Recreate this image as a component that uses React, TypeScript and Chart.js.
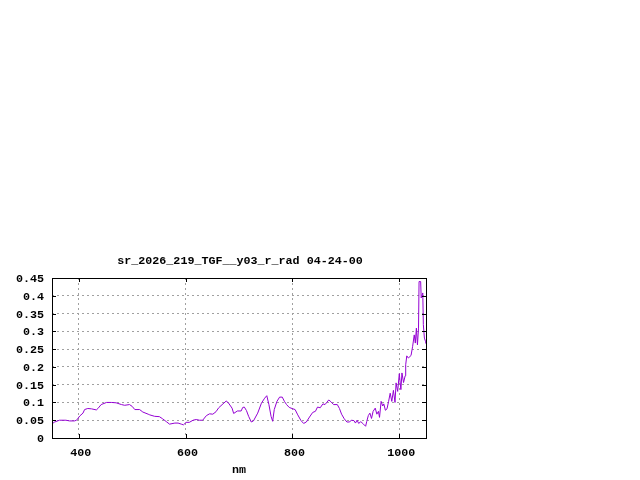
import React, { useEffect, useRef } from 'react';
import { Chart, registerables } from 'chart.js';

Chart.register(...registerables);

// Spectrum
const wavelengthNm = [
  350, 355, 364, 376, 383, 392, 396, 402, 408, 411, 417, 424, 433, 436, 442, 452, 461, 470, 480, 486,
  495, 500, 505, 514, 520, 530, 533, 542, 551, 557, 564, 570, 580, 586, 592, 596, 601, 607, 614, 620,
  626, 632, 639, 645, 651, 657, 662, 670, 676, 680, 687, 690, 697, 704, 707, 710, 714, 718, 723, 727,
  735, 742, 748, 752, 756, 760, 763, 766, 771, 776, 781, 785, 789, 794, 801, 805, 810, 816, 821, 826,
  832, 838, 843, 847, 852, 857, 861, 868, 872, 877, 884, 888, 892, 897, 902, 907, 910, 915, 918, 921,
  924, 928, 933, 937, 939, 942, 945, 948, 951, 955, 958, 961, 963, 966, 969, 971, 974, 977, 980, 983,
  986, 989, 992, 994, 997, 1000, 1003, 1005, 1008, 1011, 1012, 1014, 1017, 1022, 1025, 1028, 1030, 1032, 1034, 1036,
  1037, 1040, 1041, 1044, 1045, 1047, 1049, 1050,
];

const radiance = [
  0.04, 0.045, 0.05, 0.05, 0.048, 0.048, 0.05, 0.062, 0.07, 0.08, 0.083, 0.082, 0.079, 0.083, 0.094, 0.1, 0.1, 0.099, 0.094, 0.092,
  0.094, 0.089, 0.08, 0.08, 0.073, 0.067, 0.065, 0.061, 0.06, 0.054, 0.046, 0.039, 0.042, 0.042, 0.039, 0.037, 0.044, 0.044, 0.05, 0.052,
  0.05, 0.05, 0.063, 0.068, 0.067, 0.074, 0.085, 0.096, 0.104, 0.099, 0.084, 0.069, 0.076, 0.076, 0.086, 0.087, 0.077, 0.061, 0.045, 0.048,
  0.07, 0.098, 0.112, 0.119, 0.094, 0.061, 0.047, 0.08, 0.103, 0.115, 0.115, 0.103, 0.094, 0.086, 0.082, 0.08, 0.065, 0.049, 0.041, 0.045,
  0.059, 0.072, 0.075, 0.087, 0.085, 0.096, 0.094, 0.107, 0.102, 0.094, 0.094, 0.083, 0.067, 0.054, 0.045, 0.045, 0.05, 0.049, 0.042, 0.05,
  0.041, 0.046, 0.039, 0.033, 0.046, 0.063, 0.07, 0.055, 0.075, 0.084, 0.067, 0.075, 0.058, 0.103, 0.09, 0.096, 0.078, 0.082, 0.103, 0.126,
  0.103, 0.134, 0.1, 0.155, 0.131, 0.181, 0.136, 0.183, 0.156, 0.175, 0.206, 0.231, 0.225, 0.232, 0.258, 0.29, 0.267, 0.309, 0.262, 0.309,
  0.44, 0.44, 0.394, 0.408, 0.319, 0.281, 0.272, 0.265,
];

const xTicks = [400, 600, 800, 1000];
const yTicks = [0, 0.05, 0.1, 0.15, 0.2, 0.25, 0.3, 0.35, 0.4, 0.45];

const plotTitle = 'sr_2026_219_TGF__y03_r_rad 04-24-00';
const xTitle = 'nm';

const FONT = { family: '"Liberation Mono", "DejaVu Sans Mono", monospace', size: 11.7, weight: 'bold' as const };

// gnuplot style frame: full box, inward tick marks on all four sides, title above
const framePlugin = {
  id: 'frame',
  afterDraw(chart: Chart) {
    const { ctx, chartArea } = chart;
    const { left, right, top, bottom } = chartArea;
    const xs = chart.scales.x;
    const ys = chart.scales.y;
    const tl = 4;
    ctx.save();
    ctx.strokeStyle = '#000';
    ctx.lineWidth = 1;
    ctx.beginPath();
    xs.ticks.forEach((t) => {
      const px = Math.round(xs.getPixelForValue(t.value)) + 0.5;
      ctx.moveTo(px, bottom);
      ctx.lineTo(px, bottom - tl);
      ctx.moveTo(px, top);
      ctx.lineTo(px, top + tl);
    });
    ys.ticks.forEach((t) => {
      const py = Math.round(ys.getPixelForValue(t.value)) + 0.5;
      ctx.moveTo(left, py);
      ctx.lineTo(left + tl, py);
      ctx.moveTo(right, py);
      ctx.lineTo(right - tl, py);
    });
    ctx.stroke();
    ctx.strokeRect(Math.round(left) + 0.5, Math.round(top) + 0.5, Math.round(right - left), Math.round(bottom - top));

    ctx.fillStyle = '#000';
    ctx.font = `bold ${FONT.size}px ${FONT.family}`;
    ctx.textAlign = 'center';
    ctx.textBaseline = 'middle';
    ctx.fillText(plotTitle, (left + right) / 2 + 1, top - 17);
    ctx.restore();
  },
};

const SpectrumChart = () => {
  const canvasRef = useRef<HTMLCanvasElement>(null);

  useEffect(() => {
    if (!canvasRef.current) return;
    const points = wavelengthNm.map((x, i) => ({ x, y: radiance[i] }));
    const chart = new Chart(canvasRef.current, {
      type: 'line',
      data: {
        datasets: [
          {
            data: points,
            borderColor: '#9400d3',
            borderWidth: 1,
            pointRadius: 0,
            tension: 0,
            fill: false,
          },
        ],
      },
      options: {
        animation: false,
        responsive: true,
        maintainAspectRatio: false,
        layout: { padding: { top: 278, right: 214, left: 0, bottom: 0 } },
        plugins: {
          legend: { display: false },
          title: { display: false },
          tooltip: { enabled: false },
        },
        scales: {
          x: {
            type: 'linear',
            min: 350,
            max: 1050,
            afterBuildTicks: (scale) => {
              scale.ticks = xTicks.map((value) => ({ value }));
            },
            afterFit: (scale) => {
              scale.height = 42;
            },
            ticks: {
              color: '#000',
              font: FONT,
              padding: 8,
              labelOffset: 2,
              maxRotation: 0,
              callback: (v) => String(v),
            },
            grid: { color: '#a0a0a0', lineWidth: 1, drawTicks: false },
            border: { display: false, dash: [2, 3] },
            title: { display: true, text: xTitle, color: '#000', font: FONT, padding: { top: 0, bottom: 3 } },
          },
          y: {
            type: 'linear',
            min: 0,
            max: 0.45,
            afterBuildTicks: (scale) => {
              scale.ticks = yTicks.map((value) => ({ value }));
            },
            afterFit: (scale) => {
              scale.width = 52;
            },
            ticks: {
              color: '#000',
              font: FONT,
              padding: 8,
              labelOffset: 1,
              callback: (v) => String(Number(Number(v).toFixed(2))),
            },
            grid: { color: '#a0a0a0', lineWidth: 1, drawTicks: false },
            border: { display: false, dash: [2, 3] },
          },
        },
      },
      plugins: [framePlugin],
    });
    return () => chart.destroy();
  }, []);

  return (
    <div style={{ position: 'fixed', left: 0, top: 0, width: '640px', height: '480px', background: '#fff' }}>
      <canvas ref={canvasRef} />
    </div>
  );
};

export default function App() {
  return <SpectrumChart />;
}
